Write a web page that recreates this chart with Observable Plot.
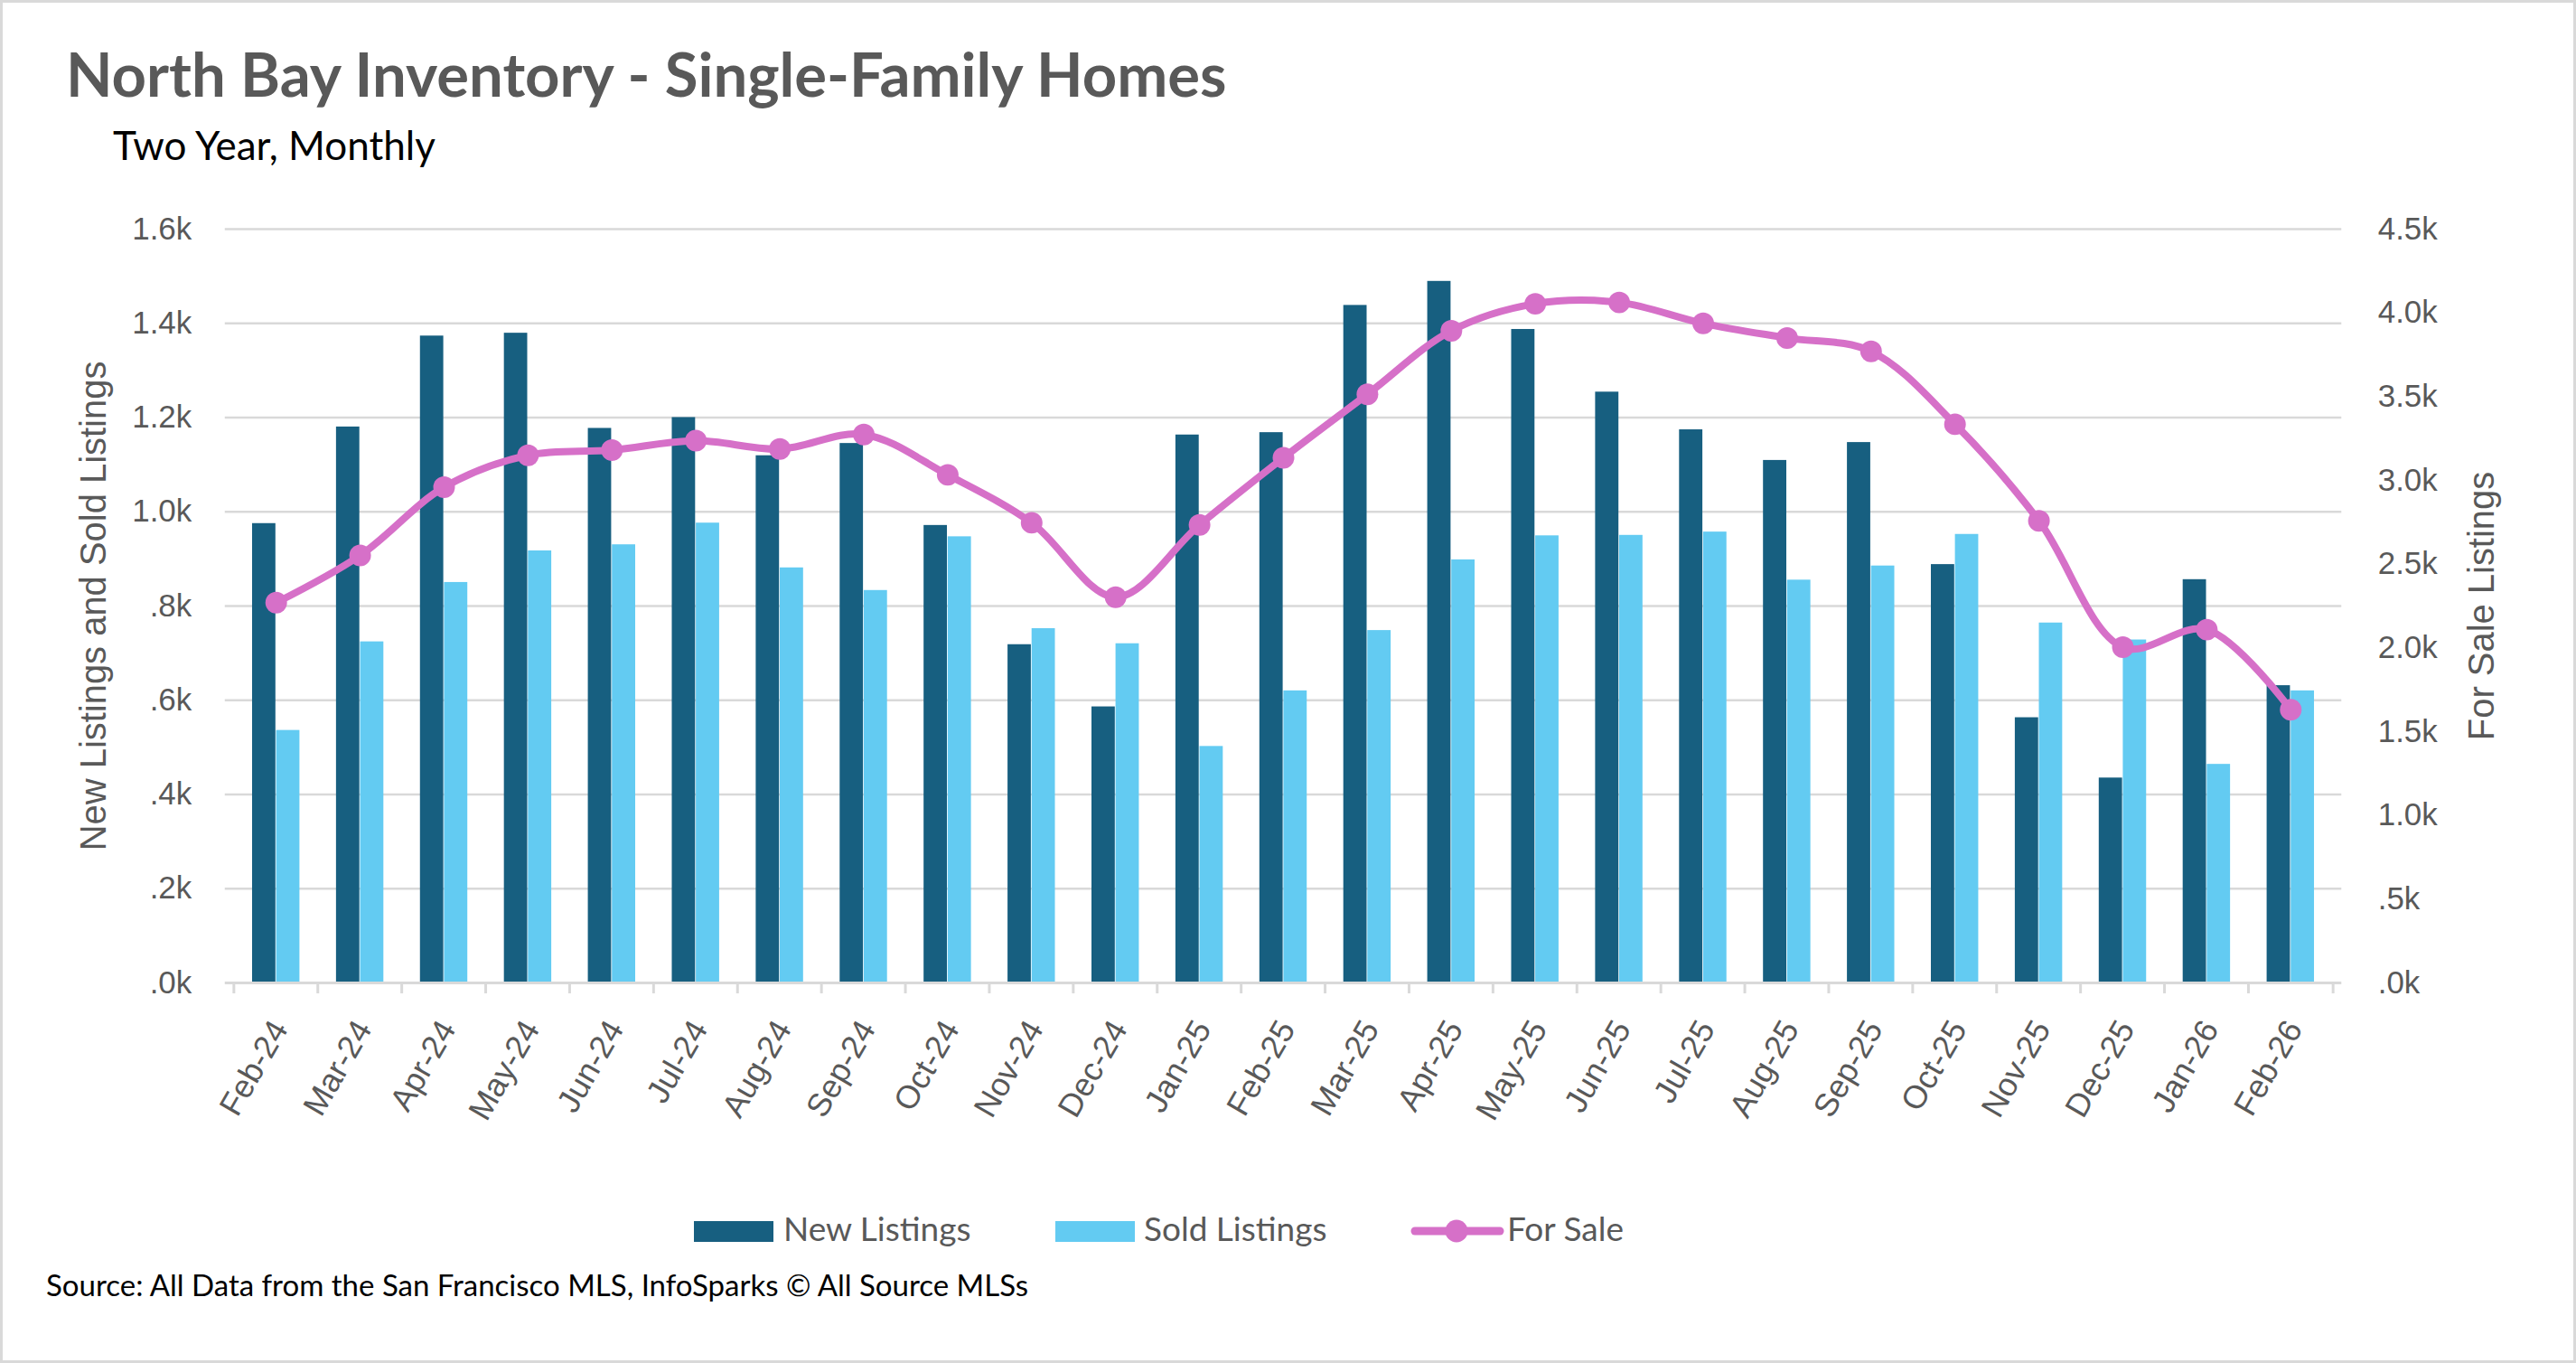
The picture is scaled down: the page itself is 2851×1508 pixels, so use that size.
<!DOCTYPE html>
<html>
<head>
<meta charset="utf-8">
<script src="https://cdn.jsdelivr.net/npm/d3@7"></script>
<script src="https://cdn.jsdelivr.net/npm/@observablehq/plot@0.6"></script>
<style>
  html, body { margin: 0; padding: 0; background: #fff; }
  #page { position: relative; width: 2851px; height: 1508px; box-sizing: border-box; border: 3px solid #d9d9d9; background: #fff; overflow: hidden; }
  .abs { position: absolute; white-space: nowrap; line-height: 1; }
  #title { left: 70px; top: 45px; font-family: Lato, sans-serif; font-weight: 700; font-size: 67px; color: #595959; }
  #subtitle { left: 122px; top: 135px; font-family: Lato, sans-serif; font-size: 44px; color: #000; }
  #chart { position: absolute; left: -3px; top: 197px; }
  .leg { font-family: Lato, sans-serif; font-size: 37px; color: #595959; top: 1337px; }
  .sw { position: absolute; top: 1348px; width: 88px; height: 23px; }
  #source { left: 48px; top: 1402px; font-family: Lato, sans-serif; font-size: 33px; color: #000; }
</style>
</head>
<body>
<div id="page">
  <div id="title" class="abs">North Bay Inventory - Single-Family Homes</div>
  <div id="subtitle" class="abs">Two Year, Monthly</div>
  <div id="chart"></div>
  <div class="sw" style="left:765px; background:#175F80;"></div>
  <div class="abs leg" style="left:864px;">New Listings</div>
  <div class="sw" style="left:1165px; background:#63CBF2;"></div>
  <div class="abs leg" style="left:1263px;">Sold Listings</div>
  <svg class="abs" style="left:1555px; top:1339px;" width="110" height="40">
    <line x1="8" y1="20" x2="102" y2="20" stroke="#D670C8" stroke-width="9" stroke-linecap="round"/>
    <circle cx="54" cy="20" r="12.5" fill="#D670C8"/>
  </svg>
  <div class="abs leg" style="left:1665px;">For Sale</div>
  <div id="source" class="abs">Source: All Data from the San Francisco MLS, InfoSparks © All Source MLSs</div>
</div>
<script>
const months = ["Feb-24","Mar-24","Apr-24","May-24","Jun-24","Jul-24","Aug-24","Sep-24","Oct-24","Nov-24","Dec-24",
  "Jan-25","Feb-25","Mar-25","Apr-25","May-25","Jun-25","Jul-25","Aug-25","Sep-25","Oct-25","Nov-25","Dec-25",
  "Jan-26","Feb-26"];
const newListings = [975, 1180, 1373, 1379, 1177, 1200, 1119, 1145, 971, 718, 586,
  1163, 1168, 1438, 1489, 1387, 1254, 1174, 1109, 1147, 888, 563, 435, 856, 631];
const soldListings = [536, 724, 850, 917, 930, 976, 881, 833, 947, 752, 720,
  502, 620, 748, 898, 949, 950, 957, 855, 885, 952, 764, 728, 464, 620];
const forSale = [2270, 2552, 2959, 3150, 3181, 3237, 3187, 3274, 3033, 2747, 2303,
  2734, 3135, 3514, 3893, 4054, 4062, 3937, 3850, 3770, 3335, 2759, 2004, 2109, 1631];
const leftTicks = [0, 200, 400, 600, 800, 1000, 1200, 1400, 1600];
const rightTicks = [0, 500, 1000, 1500, 2000, 2500, 3000, 3500, 4000, 4500];
const leftTitle = "New Listings and Sold Listings";
const rightTitle = "For Sale Listings";

const rows = months.map((m, i) => ({month: m, newL: newListings[i], sold: soldListings[i], forSale: forSale[i]}));

const W = 2851, H = 1100;
const mL = 249, mR = 257, mT = 53, mB = 212;
const bw = (W - mL - mR) / months.length;
const barW = bw * 0.284;
const yMax = leftTicks[leftTicks.length - 1];
const rMax = rightTicks[rightTicks.length - 1];
const k = yMax / rMax;
const pxPerUnit = (H - mT - mB) / yMax;
const fmt = v => (v / 1000).toFixed(1).replace(/^0/, "") + "k";
const grid = "#d9d9d9";
const textCol = "#595959";
const axisFont = "Liberation Sans, Arial, sans-serif";

const chart = Plot.plot({
  width: W, height: H,
  marginLeft: mL, marginRight: mR, marginTop: mT, marginBottom: mB,
  style: {fontFamily: axisFont, background: "transparent", overflow: "visible"},
  x: {type: "band", domain: months, padding: 0, axis: null},
  y: {domain: [0, yMax], axis: null},
  marks: [
    Plot.ruleY(leftTicks.filter(t => t > 0), {stroke: grid, strokeWidth: 2.5}),
    Plot.barY(rows, {x: "month", y: "newL", fill: "#175F80", insetLeft: bw / 2 - barW, insetRight: bw / 2}),
    Plot.barY(rows, {x: "month", y: "sold", fill: "#63CBF2", insetLeft: bw / 2, insetRight: bw / 2 - barW}),
    Plot.ruleY([0], {stroke: grid, strokeWidth: 3}),
    Plot.ruleX(months, {x: d => d, y1: 0, y2: -12 / pxPerUnit, dx: -bw / 2, stroke: grid, strokeWidth: 3}),
    Plot.ruleX(months.slice(-1), {x: d => d, y1: 0, y2: -12 / pxPerUnit, dx: bw / 2, stroke: grid, strokeWidth: 3}),
    Plot.axisY(leftTicks, {anchor: "left", tickSize: 0, tickPadding: 37, tickFormat: fmt, fontSize: 35, fill: textCol, label: null}),
    Plot.axisY(rightTicks.map(v => v * k), {anchor: "right", tickSize: 0, tickPadding: 40, tickFormat: d => fmt(Math.round(d / k)), fontSize: 35, fill: textCol, label: null}),
    Plot.axisX({anchor: "bottom", tickSize: 0, tickPadding: 45, dx: 4, tickRotate: -60, fontSize: 36, fill: textCol, label: null}),
    Plot.text([leftTitle], {frameAnchor: "left", textAnchor: "middle", rotate: -90, dx: -145, fontSize: 40, fill: textCol}),
    Plot.text([rightTitle], {frameAnchor: "right", textAnchor: "middle", rotate: -90, dx: 156, fontSize: 40, fill: textCol}),
    Plot.line(rows, {x: "month", y: d => d.forSale * k, curve: "catmull-rom", stroke: "#D670C8", strokeWidth: 8}),
    Plot.dot(rows, {x: "month", y: d => d.forSale * k, r: 12, fill: "#D670C8", stroke: "none"})
  ]
});
document.getElementById("chart").appendChild(chart);
</script>
</body>
</html>
